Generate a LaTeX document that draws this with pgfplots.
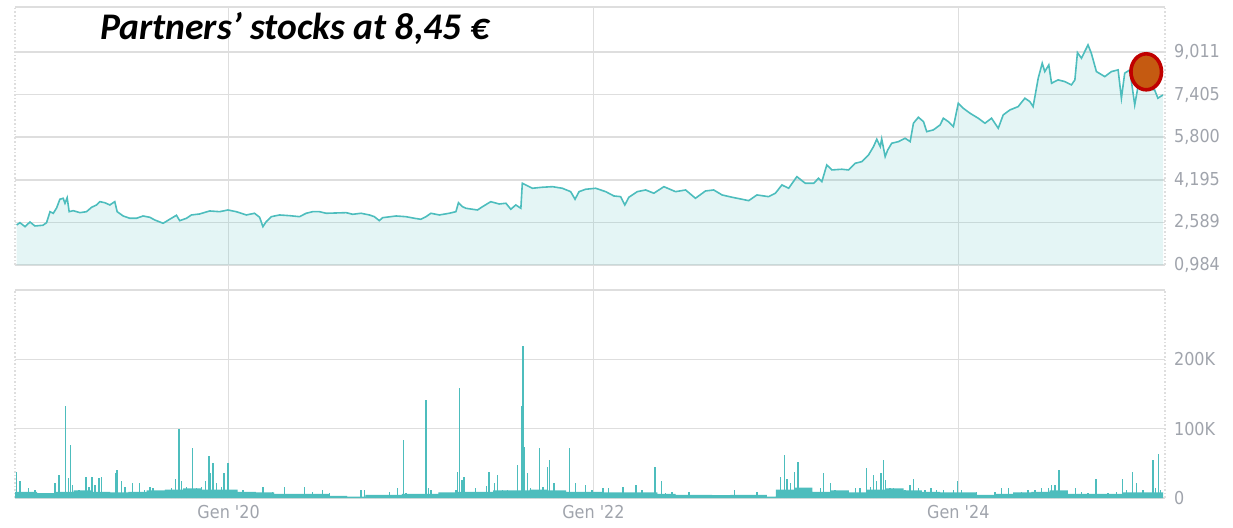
\documentclass[border=0pt]{standalone}
\usepackage{pgfplots}
\usepackage{pgfplotstable}
\pgfplotsset{compat=1.18}
\usepackage{fontspec}
\setmainfont{Carlito}
\newfontfamily\tickfont{DejaVu Sans Condensed}
\definecolor{linec}{HTML}{4DBDBD}
\definecolor{gridc}{HTML}{DEDEDE}
\definecolor{tickc}{HTML}{A0A4AC}
\definecolor{dotred}{HTML}{C00000}
\definecolor{dotorange}{HTML}{C55A11}

\pgfplotstableread{
t v
2018.838 2.491
2018.856 2.578
2018.884 2.427
2018.911 2.604
2018.938 2.454
2018.982 2.480
2019.002 2.578
2019.021 2.992
2019.039 2.932
2019.057 3.132
2019.075 3.460
2019.093 3.497
2019.103 3.309
2019.115 3.520
2019.126 2.992
2019.148 3.030
2019.185 2.955
2019.221 2.992
2019.249 3.158
2019.276 3.245
2019.294 3.369
2019.321 3.331
2019.349 3.245
2019.376 3.369
2019.389 2.992
2019.422 2.830
2019.458 2.744
2019.495 2.744
2019.531 2.830
2019.568 2.781
2019.595 2.680
2019.641 2.555
2019.677 2.706
2019.714 2.857
2019.732 2.653
2019.769 2.744
2019.796 2.868
2019.841 2.906
2019.896 3.019
2019.951 2.992
2019.996 3.056
2020.042 2.992
2020.097 2.868
2020.142 2.932
2020.170 2.781
2020.188 2.427
2020.206 2.616
2020.234 2.804
2020.279 2.868
2020.334 2.842
2020.389 2.804
2020.425 2.932
2020.461 2.992
2020.498 2.992
2020.535 2.932
2020.644 2.955
2020.680 2.894
2020.726 2.932
2020.772 2.868
2020.799 2.804
2020.826 2.653
2020.844 2.766
2020.918 2.830
2020.972 2.804
2021.018 2.744
2021.054 2.706
2021.082 2.804
2021.109 2.932
2021.155 2.868
2021.209 2.932
2021.246 2.992
2021.260 3.331
2021.282 3.181
2021.301 3.120
2021.337 3.083
2021.364 3.056
2021.392 3.181
2021.437 3.369
2021.483 3.282
2021.520 3.309
2021.547 3.083
2021.574 3.245
2021.602 3.120
2021.610 4.062
2021.629 3.998
2021.665 3.874
2021.720 3.912
2021.775 3.934
2021.829 3.874
2021.875 3.746
2021.899 3.460
2021.921 3.746
2021.957 3.836
2022.012 3.874
2022.067 3.746
2022.112 3.584
2022.149 3.558
2022.172 3.245
2022.194 3.535
2022.240 3.746
2022.286 3.810
2022.331 3.686
2022.386 3.934
2022.450 3.746
2022.505 3.810
2022.559 3.497
2022.614 3.772
2022.659 3.810
2022.705 3.622
2022.760 3.535
2022.814 3.460
2022.851 3.407
2022.896 3.622
2022.960 3.558
2022.997 3.686
2023.033 3.998
2023.070 3.874
2023.115 4.311
2023.161 4.062
2023.207 4.062
2023.234 4.251
2023.252 4.123
2023.279 4.752
2023.307 4.564
2023.361 4.590
2023.398 4.564
2023.435 4.816
2023.471 4.876
2023.508 5.129
2023.535 5.442
2023.553 5.720
2023.572 5.442
2023.580 5.732
2023.599 5.065
2023.613 5.317
2023.635 5.570
2023.672 5.630
2023.708 5.758
2023.736 5.630
2023.754 6.323
2023.781 6.549
2023.809 6.384
2023.827 6.007
2023.863 6.071
2023.900 6.259
2023.918 6.512
2023.945 6.384
2023.973 6.195
2024.000 7.077
2024.027 6.888
2024.064 6.700
2024.109 6.512
2024.146 6.323
2024.182 6.512
2024.219 6.135
2024.246 6.636
2024.283 6.824
2024.328 6.949
2024.365 7.265
2024.392 7.137
2024.410 6.949
2024.438 8.019
2024.460 8.584
2024.474 8.268
2024.496 8.520
2024.511 7.830
2024.547 7.955
2024.584 7.891
2024.620 7.766
2024.639 7.955
2024.653 8.983
2024.675 8.772
2024.711 9.274
2024.729 8.961
2024.757 8.268
2024.803 8.079
2024.839 8.268
2024.876 8.332
2024.894 7.265
2024.912 8.207
2024.940 8.332
2024.967 7.013
2024.985 7.702
2025.022 7.642
2025.076 7.578
2025.094 7.265
2025.122 7.390
}\pricedata

\pgfplotstableread{
t v
2018.838 38000
2018.856 24000
2018.902 14000
2018.938 11000
2019.048 22000
2019.071 33000
2019.106 132000
2019.121 29000
2019.134 76000
2019.145 19000
2019.179 11000
2019.218 31000
2019.234 16000
2019.252 31000
2019.267 19000
2019.289 29000
2019.303 31000
2019.349 7000
2019.382 36000
2019.389 40000
2019.413 24000
2019.431 16000
2019.473 21000
2019.513 21000
2019.540 12000
2019.568 16000
2019.586 14000
2019.639 8000
2019.686 14000
2019.708 28000
2019.728 100000
2019.741 24000
2019.769 16000
2019.801 72000
2019.823 14000
2019.851 16000
2019.874 24000
2019.892 60000
2019.900 36000
2019.914 50000
2019.933 21000
2019.960 16000
2019.974 36000
2019.996 50000
2020.015 9000
2020.078 12000
2020.115 9000
2020.188 16000
2020.242 8000
2020.306 16000
2020.352 4000
2020.416 16000
2020.461 9000
2020.516 11000
2020.553 7000
2020.726 11000
2020.744 12000
2020.808 4000
2020.881 9000
2020.926 14000
2020.958 84000
2020.972 7000
2021.000 6000
2021.082 141000
2021.096 14000
2021.109 12000
2021.164 7000
2021.209 6000
2021.246 11000
2021.255 38000
2021.266 158000
2021.279 26000
2021.291 31000
2021.352 14000
2021.383 7000
2021.413 17000
2021.428 38000
2021.456 21000
2021.474 33000
2021.501 11000
2021.528 11000
2021.583 48000
2021.607 132000
2021.614 219000
2021.621 74000
2021.640 36000
2021.656 14000
2021.684 9000
2021.703 72000
2021.724 16000
2021.747 45000
2021.760 55000
2021.784 21000
2021.811 7000
2021.839 9000
2021.870 72000
2021.903 21000
2021.930 9000
2021.957 19000
2021.993 11000
2022.030 9000
2022.052 14000
2022.081 14000
2022.122 6000
2022.161 16000
2022.194 7000
2022.234 19000
2022.267 11000
2022.304 6000
2022.337 45000
2022.373 24000
2022.395 7000
2022.431 9000
2022.523 9000
2022.774 11000
2022.896 9000
2023.024 31000
2023.048 62000
2023.060 28000
2023.079 21000
2023.103 38000
2023.121 52000
2023.134 14000
2023.216 9000
2023.243 14000
2023.261 36000
2023.279 9000
2023.298 21000
2023.325 11000
2023.435 14000
2023.462 15000
2023.498 43000
2023.517 16000
2023.535 33000
2023.553 24000
2023.577 36000
2023.590 55000
2023.602 26000
2023.626 15000
2023.644 15000
2023.672 9000
2023.708 11000
2023.736 19000
2023.754 28000
2023.781 14000
2023.818 11000
2023.851 14000
2023.881 11000
2023.918 12000
2023.945 7000
2023.973 11000
2023.995 24000
2024.018 12000
2024.055 7000
2024.100 9000
2024.201 8000
2024.237 14000
2024.274 15000
2024.310 7000
2024.346 9000
2024.383 11000
2024.420 12000
2024.456 15000
2024.493 14000
2024.511 19000
2024.529 19000
2024.551 40000
2024.642 14000
2024.675 8000
2024.711 7000
2024.754 28000
2024.821 7000
2024.866 8000
2024.899 28000
2024.921 11000
2024.954 38000
2024.976 21000
2025.012 11000
2025.067 55000
2025.080 14000
2025.098 64000
2025.109 11000
}\volspikes

\pgfplotstableread{
t v
2018.830 9000
2018.950 7000
2019.050 9000
2019.150 11000
2019.250 9000
2019.350 8000
2019.450 9000
2019.550 11000
2019.650 12000
2019.750 14000
2019.850 12000
2019.950 12000
2020.050 9000
2020.150 8000
2020.250 6000
2020.350 6000
2020.450 6000
2020.550 3000
2020.650 2000
2020.750 4500
2020.850 4500
2020.950 6000
2021.050 6000
2021.150 8000
2021.250 9000
2021.350 9000
2021.450 11000
2021.550 11000
2021.650 12000
2021.750 11000
2021.850 9000
2021.950 9000
2022.050 8000
2022.150 8000
2022.250 8000
2022.350 6000
2022.450 4500
2022.550 4500
2022.650 4000
2022.750 4500
2022.850 4500
2022.950 2000
2023.000 12000
2023.100 15000
2023.200 9000
2023.300 11000
2023.400 8000
2023.500 12000
2023.600 14000
2023.700 11000
2023.800 9000
2023.900 8000
2024.000 8000
2024.100 4500
2024.200 6000
2024.300 8000
2024.400 9000
2024.500 11000
2024.600 6000
2024.700 6000
2024.800 6000
2024.900 8000
2025.000 8000
2025.122 9000
}\volbase

\pgfplotsset{
  common/.style={
    scale only axis, width=575pt,
    xmin=2018.829, xmax=2025.133,
    xtick={2020,2022,2024},
    grid=major, grid style={gridc, line width=0.8pt},
    separate axis lines,
    x axis line style={gridc, line width=0.8pt},
    y axis line style={gridc, line width=0.8pt, densely dotted},
    major tick length=0pt,
    xtick style={draw=none}, ytick style={draw=none},
    yticklabel pos=right,
    tick label style={font=\tickfont\fontsize{8.9}{10}\selectfont, text=tickc},
    yticklabel style={xshift=1pt},
  }
}

\begin{document}
\begin{tikzpicture}
\useasboundingbox (0pt,0pt) rectangle (616.5pt,263.5pt);
\begin{axis}[common,
  at={(7.5pt,131pt)}, anchor=south west, height=129pt,
  ymin=0.984, ymax=10.70,
  xticklabels={},
  ytick={0.984,2.589,4.195,5.800,7.405,9.011},
  yticklabels={{0,984},{2,589},{4,195},{5,800},{7,405},{9,011}},
]
\addplot[draw=none, fill=linec, fill opacity=0.15] table[x=t,y=v]{\pricedata} \closedcycle;
\addplot[linec, line width=0.8pt] table[x=t,y=v]{\pricedata};
\addplot[only marks, mark=*, mark size=9pt,
  mark options={xscale=0.85, fill=dotorange, draw=dotred, line width=1.8pt}]
  coordinates {(2025.03,8.26)};
\coordinate (g1) at (axis cs:2020,0.984);
\coordinate (g2) at (axis cs:2022,0.984);
\coordinate (g3) at (axis cs:2024,0.984);
\end{axis}
\foreach \g in {g1,g2,g3} \draw[gridc, line width=0.8pt] (\g) -- ++(0pt,-12.5pt);
\begin{axis}[common,
  at={(7.5pt,14.5pt)}, anchor=south west, height=104pt,
  ymin=0, ymax=300000,
  xticklabels={Gen '20,Gen '22,Gen '24},
  ytick={0,100000,200000}, yticklabels={0,100K,200K},
  scaled y ticks=false,
]
\addplot[const plot, draw=none, fill=linec] table[x=t,y=v]{\volbase} \closedcycle;
\addplot[ycomb, linec, line width=0.7pt] table[x=t,y=v]{\volspikes};
\end{axis}
\node[anchor=base west, font=\fontsize{18.8}{22}\selectfont\bfseries\itshape] at (46.5pt,244pt) {Partners’ stocks at 8,45 €};
\end{tikzpicture}
\end{document}
